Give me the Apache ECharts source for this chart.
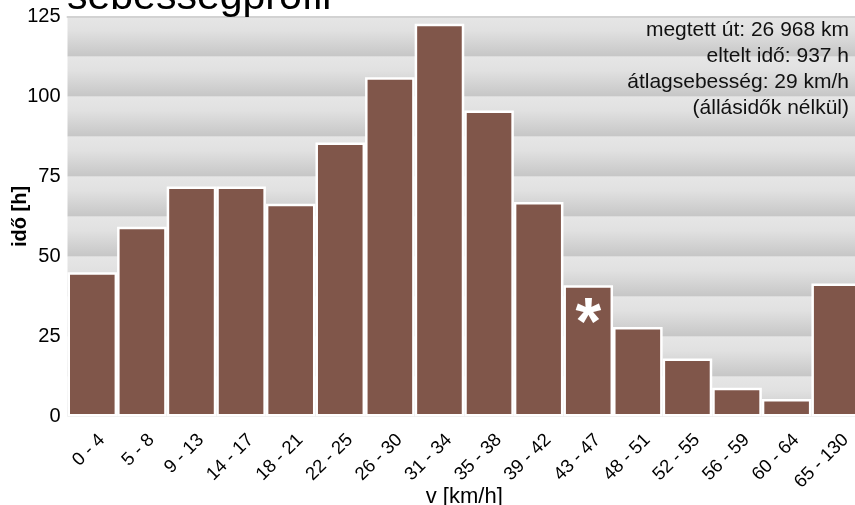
<!DOCTYPE html>
<html>
<head>
<meta charset="utf-8">
<script src="https://cdn.jsdelivr.net/npm/echarts@6/dist/echarts.min.js"></script>
<style>
  html, body { margin: 0; padding: 0; background: #fff; }
  #chart { width: 855px; height: 505px; }
</style>
</head>
<body>
<div id="chart"></div>
<script>
const categories = ['0 - 4', '5 - 8', '9 - 13', '14 - 17', '18 - 21', '22 - 25', '26 - 30', '31 - 34',
  '35 - 38', '39 - 42', '43 - 47', '48 - 51', '52 - 55', '56 - 59', '60 - 64', '65 - 130'];
const hours = [45.1, 59.3, 71.9, 71.9, 66.5, 85.6, 106.0, 122.7, 95.6, 67.0, 41.0, 28.0, 18.1, 9.0, 5.5, 41.6];
const yTicks = [0, 25, 50, 75, 100, 125];
const markedCategory = '43 - 47';
const chartTitle = 'sebességprofil';
const infoLines = ['megtett út: 26 968 km', 'eltelt idő: 937 h', 'átlagsebesség: 29 km/h', '(állásidők nélkül)'];
const xName = 'v [km/h]';
const yName = 'idő [h]';

const FONT = 'Liberation Sans, Arial, sans-serif';
const chart = echarts.init(document.getElementById('chart'));

const bandGradient = new echarts.graphic.LinearGradient(0, 0, 0, 1, [
  { offset: 0, color: '#e6e6e6' },
  { offset: 0.35, color: '#e1e1e1' },
  { offset: 1, color: '#c6c6c6' }
]);

const barData = hours.map((v, i) => categories[i] === markedCategory ? {
  value: v,
  label: {
    show: true, position: 'insideTop', distance: 7, formatter: '*',
    color: '#fff', fontSize: 66, fontWeight: 'bold', fontFamily: FONT
  }
} : v);

chart.setOption({
  animation: false,
  backgroundColor: '#fff',
  grid: { left: 67.5, right: -6, top: 16.5, bottom: 88.5, containLabel: false, outerBoundsMode: 'none' },
  graphic: [
    {
      type: 'text', left: 67, top: -23, z: 100,
      style: { text: chartTitle, font: '41px ' + FONT, fill: '#000' }
    },
    {
      type: 'text', right: 6, top: 17, z: 100,
      style: {
        text: infoLines.join('\n'), font: '21px ' + FONT, fill: '#111',
        textAlign: 'right', lineHeight: 26
      }
    }
  ],
  xAxis: [{
    type: 'category', data: categories,
    axisLine: { show: false }, axisTick: { show: false },
    axisLabel: {
      rotate: 45, fontSize: 18.5, color: '#000', fontFamily: FONT, margin: 11, interval: 0,
      verticalAlign: 'top', padding: [4, 0, 0, 0]
    },
    name: xName, nameLocation: 'middle', nameGap: 69, nameMoveOverlap: false,
    nameTextStyle: { fontSize: 22, color: '#000', fontFamily: FONT }
  }, {
    type: 'category', data: categories, position: 'top',
    axisLine: { show: true, onZero: false, lineStyle: { color: '#d2d2d2', width: 2 } },
    axisTick: { show: false }, axisLabel: { show: false }
  }],
  yAxis: [{
    type: 'value', min: yTicks[0], max: yTicks[yTicks.length - 1], interval: 25,
    axisLine: { show: false }, axisTick: { show: false }, splitLine: { show: false },
    axisLabel: { fontSize: 20, color: '#000', fontFamily: FONT, margin: 7 },
    name: yName, nameLocation: 'middle', nameGap: 37, nameRotate: 90, nameMoveOverlap: false,
    nameTextStyle: { fontSize: 20, fontWeight: 'bold', color: '#000', fontFamily: FONT }
  }, {
    type: 'value', min: 0, max: 125, interval: 12.5, position: 'left',
    axisLine: { show: false }, axisTick: { show: false }, axisLabel: { show: false },
    splitLine: { show: false },
    splitArea: { show: true, areaStyle: { color: [bandGradient] } }
  }],
  series: [{
    type: 'bar', data: barData, yAxisIndex: 0, xAxisIndex: 0,
    barCategoryGap: 0,
    itemStyle: { color: '#80564a', borderColor: '#fff', borderWidth: 2.5 }
  }]
});
</script>
</body>
</html>
